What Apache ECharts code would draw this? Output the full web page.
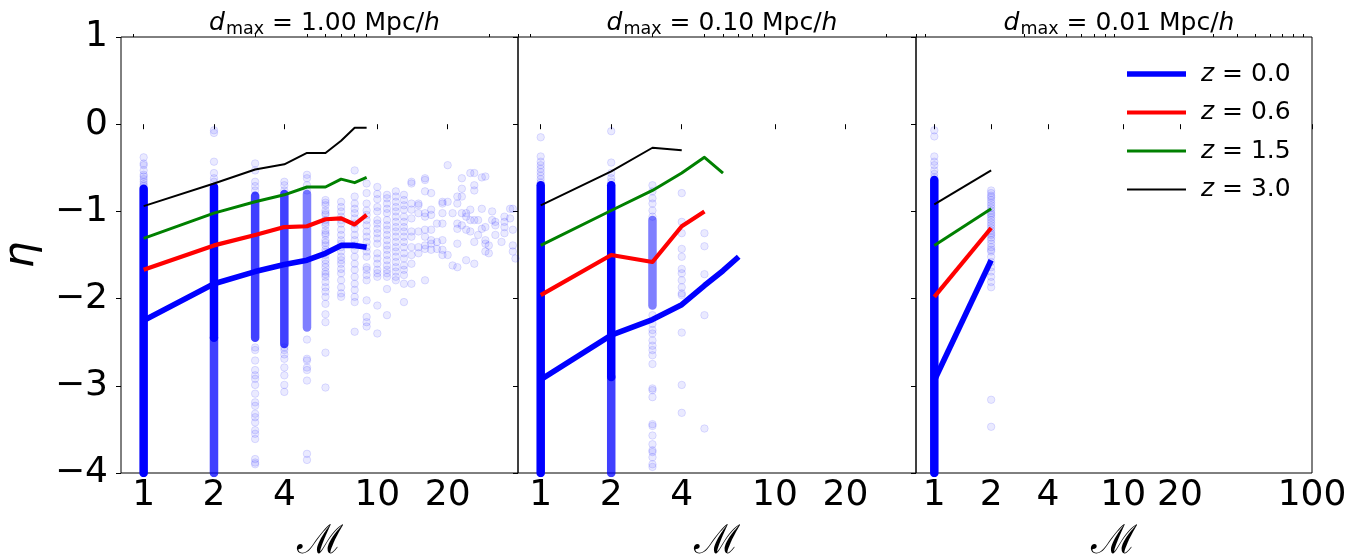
<!DOCTYPE html>
<html><head><meta charset="utf-8">
<script src="https://cdn.jsdelivr.net/npm/echarts@6/dist/echarts.min.js"></script>
<style>html,body{margin:0;padding:0;background:#fff}#c{width:1364px;height:559px}</style>
</head><body><div id="c"></div>
<script>
// ---------- data ----------
const panelDmax = ['1.00', '0.10', '0.01'];
const redshiftLabels = ['0.0', '0.6', '1.5', '3.0'];
const xMin = 0.8;
const xMaxPerPanel = [40, 40, 100];
const xMajorTicks = [[1, 2, 4, 10, 20], [1, 2, 4, 10, 20], [1, 2, 4, 10, 20, 100]];
const xMinorTicks = [[0.9, 3, 5, 6, 7, 8, 9, 30, 40], [0.9, 3, 5, 6, 7, 8, 9, 30, 40],
  [0.9, 3, 5, 6, 7, 8, 9, 30, 40, 50, 60, 70, 80, 90]];
const yTicks = [-4, -3, -2, -1, 0, 1];

// median curves, panel 1
const p1Mass = [1, 2, 3, 4, 5, 6, 7, 8, 9];
const p1EtaZ00 = [-2.25, -1.83, -1.69, -1.61, -1.56, -1.48, -1.39, -1.39, -1.41];
const p1EtaZ06 = [-1.67, -1.39, -1.27, -1.18, -1.17, -1.09, -1.08, -1.15, -1.04];
const p1EtaZ15 = [-1.31, -1.02, -0.89, -0.81, -0.72, -0.72, -0.63, -0.67, -0.61];
const p1EtaZ30 = [-0.94, -0.68, -0.52, -0.46, -0.33, -0.33, -0.19, -0.04, -0.04];
// panel 2
const p2MassZ00 = [1, 2, 3, 4, 5, 6, 7];
const p2EtaZ00 = [-2.93, -2.42, -2.24, -2.07, -1.85, -1.68, -1.52];
const p2MassZ06 = [1, 2, 3, 4, 5];
const p2EtaZ06 = [-1.96, -1.50, -1.58, -1.17, -1.00];
const p2MassZ15 = [1, 2, 3, 4, 5, 6];
const p2EtaZ15 = [-1.39, -0.99, -0.76, -0.56, -0.38, -0.56];
const p2MassZ30 = [1, 2, 3, 4];
const p2EtaZ30 = [-0.93, -0.54, -0.27, -0.30];
// panel 3
const p3Mass = [1, 2];
const p3EtaZ00 = [-2.94, -1.56];
const p3EtaZ06 = [-1.98, -1.19];
const p3EtaZ15 = [-1.39, -0.97];
const p3EtaZ30 = [-0.92, -0.53];

// densely packed parts of the scatter columns: [M, etaTop, etaBottom, density 1..3]
const p1Dense = [[1, -0.74, -4.0, 3], [2, -0.72, -2.45, 3], [2, -2.45, -4.0, 2],
  [3, -0.82, -2.45, 2], [4, -0.80, -2.52, 2], [5, -0.80, -2.33, 1]];
const p2Dense = [[1, -0.70, -4.0, 3], [2, -0.70, -2.90, 3], [2, -2.90, -4.0, 2], [3, -1.10, -2.08, 1]];
const p3Dense = [[1, -0.64, -4.0, 3]];

// individual scatter points: [M, [eta values]]
const p1Points = [
  [1, [-0.38, -0.45, -0.47, -0.53, -0.58, -0.60, -0.63, -0.66, -0.69, -0.71]],
  [2, [-0.07, -0.10, -0.43, -0.56, -0.62, -0.66]],
  [3, [-0.45, -0.53, -0.66, -0.71, -0.76, -2.56, -2.59, -2.71, -2.82, -2.88, -2.92, -2.99, -3.09, -3.19, -3.23, -3.32, -3.36, -3.42, -3.51, -3.55, -3.61, -3.84, -3.88, -3.90]],
  [4, [-0.66, -0.70, -0.76, -2.56, -2.59, -2.64, -2.69, -2.79, -2.88, -2.99, -3.07]],
  [5, [-0.58, -0.62, -0.70, -0.76, -2.47, -2.69, -2.71, -2.79, -2.82, -2.94, -3.78, -3.85]],
  [6, [-0.87, -0.90, -0.93, -0.99, -1.02, -1.04, -1.10, -1.13, -1.16, -1.22, -1.25, -1.27, -1.33, -1.36, -1.39, -1.44, -1.47, -1.50, -1.56, -1.60, -1.64, -1.69, -1.72, -1.75, -1.81, -1.87, -1.92, -1.98, -2.06, -2.18, -2.27, -2.62, -3.02]],
  [7, [-0.89, -0.95, -1.00, -1.06, -1.10, -1.14, -1.21, -1.27, -1.33, -1.37, -1.41, -1.46, -1.52, -1.56, -1.60, -1.66, -1.71, -1.79, -1.87, -1.94, -1.98]],
  [8, [-0.53, -0.83, -0.91, -0.97, -1.02, -1.08, -1.14, -1.20, -1.27, -1.33, -1.39, -1.44, -1.52, -1.60, -1.67, -1.75, -1.83, -1.90, -1.98, -2.04, -2.38]],
  [9, [-0.68, -0.79, -0.91, -0.99, -1.04, -1.10, -1.16, -1.23, -1.29, -1.35, -1.41, -1.46, -1.52, -1.64, -1.67, -1.73, -1.79, -2.02, -2.21, -2.27, -2.32]],
  [10, [-0.72, -0.80, -0.86, -0.95, -1.00, -1.10, -1.14, -1.20, -1.25, -1.31, -1.37, -1.48, -1.54, -1.60, -1.67, -1.71, -1.75, -2.08, -2.40]],
  [11, [-0.81, -0.85, -0.91, -0.97, -1.02, -1.10, -1.16, -1.21, -1.27, -1.33, -1.39, -1.44, -1.50, -1.56, -1.62, -1.67, -1.71, -1.75, -1.89, -2.19]],
  [12, [-0.77, -0.83, -0.89, -0.95, -1.00, -1.06, -1.12, -1.18, -1.23, -1.29, -1.35, -1.41, -1.46, -1.52, -1.58, -1.64, -1.69, -1.75, -1.79]],
  [13, [-0.81, -0.87, -0.93, -0.98, -1.06, -1.12, -1.18, -1.23, -1.29, -1.35, -1.41, -1.48, -1.54, -1.62, -1.67, -1.73, -1.83, -2.04]],
  [14, [-0.66, -0.68, -0.91, -0.98, -1.08, -1.23, -1.29, -1.41, -1.50, -1.60, -1.83]],
  [15, [-0.91, -0.93, -1.02, -1.23, -1.41, -1.48]],
  [16, [-0.62, -0.64, -0.77, -1.02, -1.06, -1.21, -1.29, -1.39, -1.43, -1.79]],
  [17, [-0.79, -0.98, -1.04, -1.21, -1.33, -1.37, -1.44]],
  [18, [-1.14, -1.35, -1.43]],
  [19, [-0.89, -0.91, -1.02, -1.14, -1.33, -1.44, -1.50]],
  [20, [-0.47, -0.89, -1.50]],
  [21, [-1.02, -1.62]],
  [22, [-0.83, -0.91, -1.14, -1.20, -1.37, -1.64]],
  [23, [-0.62, -0.74, -0.83, -1.02, -1.16]],
  [24, [-1.02, -1.06, -1.21, -1.56]],
  [25, [-0.56, -0.98, -1.10, -1.23]],
  [26, [-0.56, -0.70, -0.76, -1.10, -1.35, -1.60]],
  [27, [-1.10, -1.27]],
  [28, [-0.61, -0.97, -1.20]],
  [29, [-0.60, -1.18, -1.33, -1.37, -1.46]],
  [30, [-1.39, -1.48]],
  [31, [-1.00, -1.10]],
  [32, [-1.12, -1.16, -1.27]],
  [34, [-1.35]],
  [35, [-1.06, -1.12, -1.18, -1.25]],
  [37, [-0.97, -1.08]],
  [38, [-0.97, -1.21, -1.39, -1.46]],
  [39, [-1.54]]
];
const p2Points = [
  [1, [-0.15, -0.37, -0.43, -0.47, -0.51, -0.55, -0.59, -0.63, -0.67]],
  [2, [-0.08, -0.44, -0.56, -0.62, -0.66]],
  [3, [-0.70, -0.77, -0.85, -0.91, -0.99, -1.06, -2.19, -2.29, -2.36, -2.40, -2.48, -2.54, -2.59, -2.65, -2.75, -3.03, -3.05, -3.13, -3.44, -3.46, -3.57, -3.67, -3.74, -3.76, -3.82, -3.90, -3.93]],
  [4, [-0.79, -1.12, -1.25, -1.43, -1.52, -1.66, -1.71, -1.79, -1.87, -1.94, -1.96, -2.39, -2.99, -3.31]],
  [5, [-1.25, -1.40, -1.72, -2.19, -3.49]]
];
const p3Points = [
  [1, [-0.07, -0.14, -0.37, -0.43, -0.47, -0.53, -0.57, -0.61]],
  [2, [-0.76, -0.79, -0.82, -0.84, -0.87, -0.90, -0.93, -0.96, -0.99, -1.02, -1.04, -1.07, -1.10, -1.13, -1.16, -1.19, -1.22, -1.25, -1.27, -1.30, -1.33, -1.37, -1.41, -1.44, -1.46, -1.52, -1.58, -1.64, -1.69, -1.75, -1.81, -1.87, -3.16, -3.47]]
];

// ---------- build ----------
const FONT = 'DejaVu Sans';
const curveStyles = [
  { color: '#0000ff', width: 5.6 },
  { color: '#ff0000', width: 4.2 },
  { color: '#008000', width: 3.0 },
  { color: '#000000', width: 2.0 }
];
const densityOpacity = { 1: 0.5, 2: 0.75, 3: 1 };
const panels = [
  { curves: [[p1Mass, p1EtaZ00], [p1Mass, p1EtaZ06], [p1Mass, p1EtaZ15], [p1Mass, p1EtaZ30]], dense: p1Dense, points: p1Points },
  { curves: [[p2MassZ00, p2EtaZ00], [p2MassZ06, p2EtaZ06], [p2MassZ15, p2EtaZ15], [p2MassZ30, p2EtaZ30]], dense: p2Dense, points: p2Points },
  { curves: [[p3Mass, p3EtaZ00], [p3Mass, p3EtaZ06], [p3Mass, p3EtaZ15], [p3Mass, p3EtaZ30]], dense: p3Dense, points: p3Points }
];
const grids = [
  { left: 121, top: 37, width: 397, height: 436 },
  { left: 518, top: 37, width: 398, height: 436 },
  { left: 916, top: 37, width: 396, height: 436 }
].map(g => Object.assign(g, { show: true, borderColor: '#000', borderWidth: 1, backgroundColor: 'transparent',
  containLabel: false, outerBoundsMode: 'none' }));

const xAxes = [], yAxes = [], series = [], titles = [];
const seriesName = i => 'z = ' + redshiftLabels[i];
panels.forEach((p, i) => {
  xAxes.push({
    type: 'log', logBase: 10, gridIndex: i, min: xMin, max: xMaxPerPanel[i],
    axisLine: { show: false }, splitLine: { show: false }, minorTick: { show: false },
    axisTick: { show: true, length: 5, customValues: xMajorTicks[i], lineStyle: { color: '#000', width: 1 } },
    axisLabel: { customValues: xMajorTicks[i], fontSize: 36, color: '#000', fontFamily: FONT, margin: 5,
      formatter: v => String(Math.round(v * 1000) / 1000) },
    name: '\u2133', nameLocation: 'middle', nameGap: 50,
    nameTextStyle: { fontSize: 40, color: '#000', fontFamily: 'DejaVu Serif' }
  });
  xAxes.push({
    type: 'log', logBase: 10, gridIndex: i, min: xMin, max: xMaxPerPanel[i],
    axisLine: { show: false }, splitLine: { show: false }, minorTick: { show: false },
    axisTick: { show: true, length: 3, customValues: xMinorTicks[i], lineStyle: { color: '#000', width: 1 } },
    axisLabel: { show: false }
  });
  yAxes.push({
    type: 'value', gridIndex: i, min: -4, max: 1, interval: 1,
    axisLine: { show: false }, splitLine: { show: false },
    axisTick: { show: true, length: 5, lineStyle: { color: '#000', width: 1 } },
    axisLabel: { show: i === 0, fontSize: 36, color: '#000', fontFamily: FONT, margin: 13,
      formatter: v => (v < 0 ? '\u2212' + Math.abs(v) : String(v)) },
    name: i === 0 ? '\u03b7' : '', nameLocation: 'middle', nameRotate: 90, nameGap: 78,
    nameTextStyle: { fontSize: 42, color: '#000', fontFamily: FONT, fontStyle: 'italic' }
  });
  titles.push({
    text: '{i|d}{s|max}{n| = ' + panelDmax[i] + ' Mpc/}{i|h}',
    left: grids[i].left + grids[i].width / 2, top: 3, textAlign: 'center',
    textStyle: {
      fontWeight: 'normal',
      rich: {
        i: { fontSize: 25, fontFamily: FONT, fontStyle: 'italic', fontWeight: 'normal', color: '#000' },
        n: { fontSize: 25, fontFamily: FONT, fontWeight: 'normal', color: '#000' },
        s: { fontSize: 17.5, fontFamily: FONT, fontWeight: 'normal', color: '#000', padding: [12, 0, 0, 1] }
      }
    }
  });
  // dense column segments
  p.dense.forEach(d => {
    series.push({
      type: 'line', xAxisIndex: 2 * i, yAxisIndex: i, silent: true, z: 1,
      data: [[d[0], d[1]], [d[0], d[2]]], showSymbol: false, symbol: 'none',
      lineStyle: { color: '#0000ff', opacity: densityOpacity[d[3]], width: 8.5, cap: 'round' }
    });
  });
  // individual points
  const pts = [];
  p.points.forEach(([m, ys]) => ys.forEach(y => pts.push([m, y])));
  series.push({
    type: 'scatter', xAxisIndex: 2 * i, yAxisIndex: i, silent: true, z: 2,
    data: pts, symbol: 'circle', symbolSize: 7.5,
    itemStyle: { color: 'rgba(0,0,255,0.10)', borderColor: 'rgba(0,0,255,0.14)', borderWidth: 1 }
  });
  // median curves
  p.curves.forEach(([ms, etas], k) => {
    series.push({
      name: seriesName(k), type: 'line', xAxisIndex: 2 * i, yAxisIndex: i, z: 3 + k,
      data: ms.map((m, j) => [m, etas[j]]), showSymbol: false, symbol: 'none',
      color: curveStyles[k].color,
      lineStyle: { color: curveStyles[k].color, width: curveStyles[k].width, cap: 'butt', join: 'round' }
    });
  });
});

const legendData = redshiftLabels.map((r, k) => ({
  name: seriesName(k),
  icon: 'path://M0,0H59V' + curveStyles[k].width + 'H0Z'
}));

const chart = echarts.init(document.getElementById('c'), null, { renderer: 'canvas' });
chart.setOption({
  animation: false,
  backgroundColor: '#fff',
  title: titles,
  grid: grids,
  xAxis: xAxes,
  yAxis: yAxes,
  legend: {
    data: legendData, orient: 'vertical', left: 1122, top: 54,
    itemWidth: 59, itemHeight: 14, itemGap: 8.5, selectedMode: false, symbolKeepAspect: true,
    formatter: n => '{i|z}{n|' + n.slice(1) + '}',
    textStyle: {
      fontSize: 25, lineHeight: 30, color: '#000', fontFamily: FONT, padding: [0, 0, 0, 10],
      rich: {
        i: { fontSize: 25, fontStyle: 'italic', fontFamily: FONT, color: '#000' },
        n: { fontSize: 25, fontFamily: FONT, color: '#000' }
      }
    }
  },
  series: series
});
</script>
</body></html>
